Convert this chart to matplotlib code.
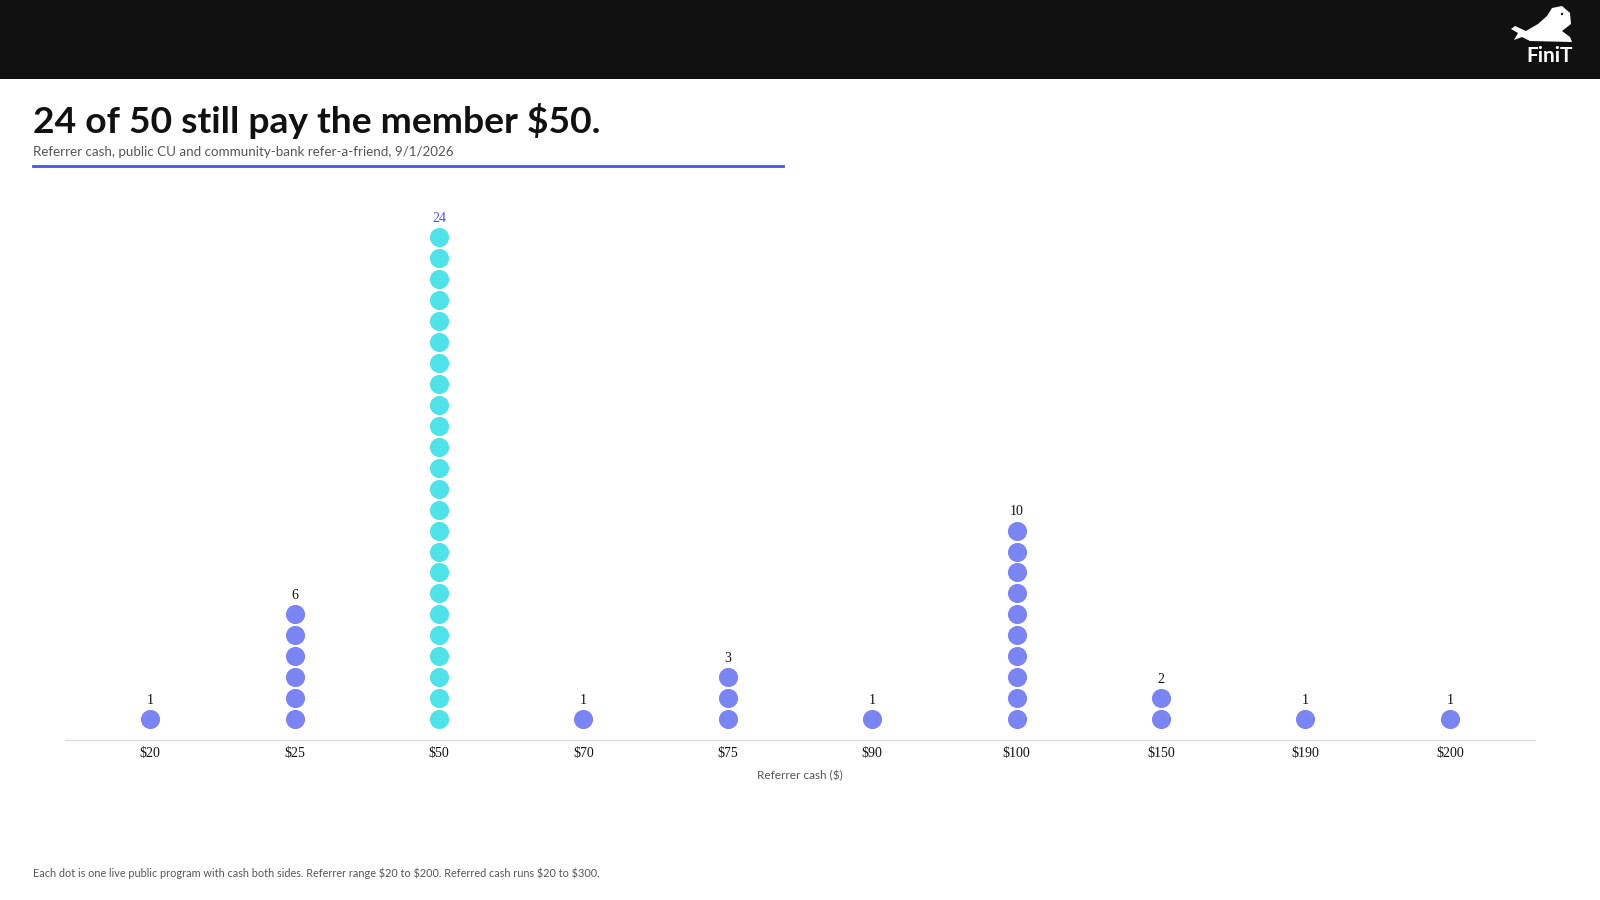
import matplotlib
matplotlib.use('Agg')
from matplotlib import pyplot as plt
import matplotlib.patches as patches
import numpy as np

plt.rcParams['text.parse_math'] = False

# data
categories = ['$20', '$25', '$50', '$70', '$75', '$90', '$100', '$150', '$190', '$200']
counts = [1, 6, 24, 1, 3, 1, 10, 2, 1, 1]
highlight = '$50'

title = '24 of 50 still pay the member $50.'
subtitle = 'Referrer cash, public CU and community-bank refer-a-friend, 9/1/2026'
x_label = 'Referrer cash ($)'
footnote = ('Each dot is one live public program with cash both sides. '
            'Referrer range $20 to $200. Referred cash runs $20 to $300.')

purple = '#7b85f1'
cyan = '#4fe2e8'
accent = '#4a55e0'
W, H = 1600, 900


def fx(px):
    return px / W


def fy(py):
    return 1 - py / H


fig = plt.figure(figsize=(16, 9), dpi=100)
fig.patch.set_facecolor('white')

# black header band
fig.patches.append(patches.Rectangle((0, fy(79)), 1, 79 / H, transform=fig.transFigure,
                                     facecolor='#111111', edgecolor='none', zorder=-10))

# title block
fig.text(fx(33), fy(121), title, fontsize=26.8, fontweight='bold', family='Lato',
         color='#111111', va='center', ha='left')
fig.text(fx(33), fy(152), subtitle, fontsize=9.6, family='Lato', color='#555555',
         va='center', ha='left')
fig.add_artist(plt.Line2D([fx(33), fx(783)], [fy(166), fy(166)], transform=fig.transFigure,
                          color=accent, linewidth=2))

# dot plot
ax = fig.add_axes([fx(65), fy(740), fx(1535) - fx(65), fy(180) - fy(740)])
xs = np.arange(len(categories))
for x, cat, n in zip(xs, categories, counts):
    col = cyan if cat == highlight else purple
    ys = np.arange(n)
    ax.scatter(np.full(n, x), ys, s=190, color=col, linewidths=0, zorder=3)
    ax.text(x, n - 1 + 0.9, str(n), ha='center', va='center', fontsize=10,
            family='Liberation Serif', color=accent if cat == highlight else '#111111')

ax.set_xlim(-0.59, len(categories) - 1 + 0.59)
ax.set_ylim(-1.0, (719 - 180) / 20.94)
ax.set_xticks(xs)
ax.set_xticklabels(categories, family='Liberation Serif', fontsize=10, color='#111111')
ax.tick_params(axis='x', length=0, pad=5)
ax.set_yticks([])
for s in ['top', 'right', 'left']:
    ax.spines[s].set_visible(False)
ax.spines['bottom'].set_color('#dddddd')
ax.spines['bottom'].set_linewidth(1)
ax.set_xlabel(x_label, fontsize=8.5, family='Lato', color='#555555', labelpad=7)

fig.text(fx(33), fy(873), footnote, fontsize=7.85, family='Lato', color='#555555',
         va='center', ha='left')

# logo (pixel coords inside header)
lg = fig.add_axes([fx(1500), fy(75), fx(90), 70 / H], zorder=5)
lg.set_xlim(1500, 1590)
lg.set_ylim(75, 5)
lg.axis('off')
seal = [(1511, 29), (1518, 33), (1514, 40), (1522, 37), (1530, 41), (1572, 42),
        (1570, 37), (1562, 31), (1571, 24), (1570, 13), (1562, 6), (1552, 8),
        (1547, 16), (1538, 24), (1526, 31), (1515, 26)]
lg.add_patch(patches.Polygon(seal, closed=True, facecolor='white', edgecolor='none'))
lg.add_patch(patches.Circle((1562, 14), 1.2, facecolor='#111111', edgecolor='none'))
lg.text(1550, 56, 'FiniT', color='white', fontsize=15, fontweight='bold', family='Lato',
        ha='center', va='center')

fig.savefig('out.png', dpi=100)
